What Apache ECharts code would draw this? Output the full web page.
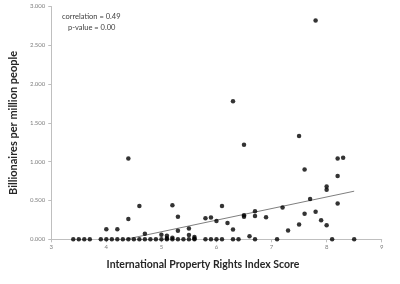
<!DOCTYPE html>
<html>
<head>
<meta charset="utf-8">
<script src="https://cdn.jsdelivr.net/npm/echarts@6/dist/echarts.min.js"></script>
<style>html,body{margin:0;padding:0;background:#fff}#c{width:400px;height:284px}</style>
</head>
<body>
<div id="c"></div>
<script>
// Countries with zero billionaires (x = IPRI score)
var zeroScores = [3.4,3.5,3.6,3.7,3.9,4.0,4.1,4.2,4.3,4.4,4.5,4.6,4.7,4.8,4.9,5.0,5.1,5.2,5.3,5.4,5.5,5.6,5.8,5.9,6.0,6.1,6.3,6.4,6.7,7.1,8.1,8.5];
// Countries with billionaires: score and billionaires per million people
var scores = [4.7,5.0,5.1,5.1,5.2,5.5,5.6,5.6,
  4.0,4.2,4.4,4.4,4.6,5.2,5.3,5.3,5.5,5.8,5.9,6.0,6.1,6.2,6.3,6.3,6.5,6.5,6.5,6.6,6.7,6.7,6.9,
  7.2,7.3,7.5,7.5,7.6,7.6,7.7,7.8,7.8,7.9,8.0,8.0,8.0,8.2,8.3,8.2,8.2];
var billionaires = [0.07,0.06,0.045,0.015,0.02,0.055,0.03,0.01,
  0.13,0.13,0.26,1.04,0.43,0.44,0.29,0.11,0.14,0.27,0.28,0.235,0.43,0.21,0.125,1.78,1.22,0.31,0.29,0.04,0.36,0.30,0.285,
  0.41,0.115,0.19,1.33,0.90,0.33,0.52,0.355,2.82,0.245,0.68,0.64,0.18,1.04,1.05,0.815,0.46];
// Linear trendline endpoints (as drawn, clipped at 0)
var trendX = [4.35, 8.5];
var trendY = [0, 0.62];
var xTicks = [3,4,5,6,7,8,9];
var yTicks = [0,0.5,1,1.5,2,2.5,3];
var corrText = 'correlation = 0.49';
var pText = 'p-value = 0.00';

var pts = [];
zeroScores.forEach(function(x){ pts.push([x,0]); });
scores.forEach(function(x,i){ pts.push([x,billionaires[i]]); });
var trend = trendX.map(function(x,i){ return [x,trendY[i]]; });

var chart = echarts.init(document.getElementById('c'), null, {renderer:'canvas'});
var font = 'Lato, "Open Sans", sans-serif';
chart.setOption({
  animation:false,
  grid:{left:47.7,right:18.3,top:6.5,bottom:44.7},
  xAxis:{
    type:'value', min:xTicks[0], max:xTicks[xTicks.length-1], interval:1,
    name:'International Property Rights Index Score', nameLocation:'middle', nameGap:20,
    nameTextStyle:{fontFamily:font,fontWeight:'bold',fontSize:10.5,color:'#262626',padding:[0,27,0,0]},
    axisLine:{show:true,lineStyle:{color:'#bfbfbf',width:1}},
    axisTick:{show:true,length:3,lineStyle:{color:'#bfbfbf'}},
    axisLabel:{fontFamily:font,fontSize:6,color:'#7f7f7f',margin:5},
    splitLine:{show:false}
  },
  yAxis:{
    type:'value', min:yTicks[0], max:yTicks[yTicks.length-1], interval:0.5,
    name:'Billionaires per million people', nameLocation:'middle', nameGap:28, nameRotate:90,
    nameTextStyle:{fontFamily:font,fontWeight:'bold',fontSize:11,color:'#262626'},
    axisLine:{show:true,lineStyle:{color:'#bfbfbf',width:1}},
    axisTick:{show:true,length:3,lineStyle:{color:'#bfbfbf'}},
    axisLabel:{fontFamily:font,fontSize:6,color:'#7f7f7f',margin:6,formatter:function(v){return v.toFixed(3);}},
    splitLine:{show:false}
  },
  graphic:[
    {type:'text',left:62,top:13,style:{text:corrText,font:'7.5px '+font,fill:'#404040'}},
    {type:'text',left:68,top:24,style:{text:pText,font:'7.5px '+font,fill:'#404040'}}
  ],
  series:[
    {type:'line',data:trend,showSymbol:false,symbol:'none',lineStyle:{color:'#7f7f7f',width:1},z:1},
    {type:'scatter',data:pts,symbol:'circle',symbolSize:4.5,itemStyle:{color:'#000'},z:2}
  ]
});
</script>
</body>
</html>
